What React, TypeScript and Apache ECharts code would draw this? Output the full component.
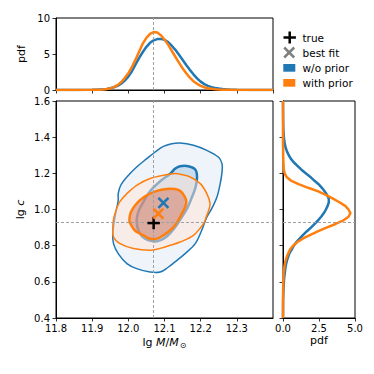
import React, { useEffect, useRef } from 'react';
import * as echarts from 'echarts';

const C0 = '#1f77b4';
const C1 = '#ff7f0e';
const FONT = 'DejaVu Sans';

// truth and best-fit parameters (lg M, lg c)
const trueParams = [12.07, 0.925];
const bestFitNoPrior = [12.097, 1.036];
const bestFitPrior = [12.083, 0.977];

// marginal pdf of lg M (top panel)
const massGrid = [11.80, 11.85, 11.90, 11.91, 11.92, 11.93, 11.94, 11.95, 11.96, 11.97, 11.98, 11.99,
  12.00, 12.01, 12.02, 12.03, 12.04, 12.05, 12.06, 12.07, 12.08, 12.09, 12.10, 12.11, 12.12, 12.13,
  12.14, 12.15, 12.16, 12.17, 12.18, 12.19, 12.20, 12.21, 12.22, 12.23, 12.24, 12.25, 12.26, 12.27,
  12.28, 12.29, 12.30, 12.35, 12.40];
const massPdfNoPrior = [0, 0, 0.02, 0.04, 0.07, 0.10, 0.15, 0.25, 0.38, 0.57, 0.87, 1.30,
  1.86, 2.60, 3.55, 4.45, 5.28, 6.00, 6.55, 6.90, 7.07, 7.10, 6.97, 6.65, 6.15, 5.58,
  4.90, 4.20, 3.48, 2.80, 2.18, 1.62, 1.16, 0.82, 0.58, 0.40, 0.28, 0.20, 0.14, 0.09,
  0.06, 0.04, 0.03, 0.01, 0];
const massPdfPrior = [0, 0, 0.02, 0.03, 0.05, 0.08, 0.13, 0.22, 0.40, 0.68, 1.08, 1.65,
  2.32, 3.20, 4.25, 5.35, 6.45, 7.25, 7.80, 8.05, 7.98, 7.60, 7.00, 6.30, 5.45, 4.62,
  3.80, 3.02, 2.32, 1.72, 1.22, 0.86, 0.58, 0.38, 0.25, 0.16, 0.10, 0.06, 0.04, 0.03,
  0.02, 0.01, 0.01, 0, 0];

// marginal pdf of lg c (right panel)
const concGrid = [0.40, 0.50, 0.55, 0.60, 0.62, 0.64, 0.66, 0.68, 0.70, 0.72, 0.74, 0.76, 0.78,
  0.80, 0.82, 0.84, 0.86, 0.88, 0.90, 0.92, 0.94, 0.96, 0.98, 1.00, 1.02, 1.04, 1.06, 1.08, 1.10,
  1.12, 1.14, 1.16, 1.18, 1.20, 1.22, 1.24, 1.26, 1.28, 1.30, 1.32, 1.34, 1.36, 1.38, 1.40,
  1.45, 1.50, 1.60];
const concPdfNoPrior = [0, 0.01, 0.03, 0.06, 0.08, 0.11, 0.14, 0.17, 0.22, 0.28, 0.36, 0.46, 0.61,
  0.75, 0.93, 1.17, 1.40, 1.66, 1.94, 2.20, 2.43, 2.65, 2.84, 2.98, 3.10, 3.18, 3.18, 3.06, 2.90,
  2.70, 2.47, 2.17, 1.90, 1.58, 1.28, 1.02, 0.76, 0.55, 0.40, 0.28, 0.19, 0.13, 0.09, 0.06,
  0.02, 0.01, 0];
const concPdfPrior = [0, 0, 0.01, 0.02, 0.03, 0.04, 0.06, 0.09, 0.13, 0.19, 0.27, 0.38, 0.50,
  0.70, 1.00, 1.40, 1.90, 2.45, 3.02, 3.65, 4.20, 4.55, 4.68, 4.55, 4.32, 3.92, 3.47, 3.00, 2.45,
  1.75, 1.08, 0.55, 0.25, 0.11, 0.06, 0.04, 0.03, 0.02, 0.01, 0.01, 0.01, 0, 0, 0,
  0, 0, 0];

// credible-region contours (lg M, lg c)
const blueOuter = [[11.972, 1.088], [11.979, 1.134], [11.996, 1.180], [12.023, 1.235], [12.051, 1.281],
  [12.074, 1.318], [12.097, 1.349], [12.120, 1.364], [12.143, 1.368], [12.180, 1.355], [12.217, 1.327],
  [12.249, 1.290], [12.259, 1.254], [12.259, 1.207], [12.254, 1.143], [12.245, 1.069], [12.232, 1.010],
  [12.217, 0.958], [12.203, 0.885], [12.185, 0.811], [12.157, 0.756], [12.129, 0.710], [12.111, 0.682],
  [12.088, 0.654], [12.060, 0.654], [12.023, 0.673], [11.996, 0.701], [11.972, 0.756], [11.959, 0.811],
  [11.957, 0.867], [11.963, 0.958], [11.972, 1.051]];
const blueInner = [[12.116, 1.198], [12.129, 1.225], [12.143, 1.239], [12.166, 1.239], [12.185, 1.221],
  [12.190, 1.180], [12.186, 1.124], [12.176, 1.069], [12.164, 1.012], [12.148, 0.958], [12.129, 0.901],
  [12.107, 0.852], [12.088, 0.830], [12.069, 0.824], [12.046, 0.838], [12.030, 0.874], [12.023, 0.929],
  [12.027, 0.984], [12.041, 1.040], [12.060, 1.101], [12.088, 1.156]];
const orangeOuter = [[11.957, 0.903], [11.959, 0.946], [11.963, 0.977], [11.969, 1.012], [11.977, 1.045],
  [11.996, 1.088], [12.023, 1.134], [12.060, 1.171], [12.097, 1.189], [12.129, 1.199], [12.143, 1.195],
  [12.171, 1.180], [12.199, 1.143], [12.217, 1.088], [12.226, 1.034], [12.222, 0.995], [12.215, 0.957],
  [12.208, 0.922], [12.180, 0.857], [12.143, 0.820], [12.116, 0.802], [12.088, 0.785], [12.060, 0.774],
  [12.014, 0.784], [11.977, 0.811], [11.959, 0.848]];
const orangeInner = [[12.032, 1.051], [12.051, 1.078], [12.079, 1.103], [12.106, 1.114], [12.129, 1.113],
  [12.143, 1.103], [12.152, 1.084], [12.160, 1.051], [12.158, 1.018], [12.148, 0.977], [12.138, 0.940],
  [12.129, 0.913], [12.116, 0.885], [12.099, 0.860], [12.079, 0.839], [12.060, 0.838], [12.042, 0.857],
  [12.021, 0.879], [12.014, 0.894], [12.005, 0.924], [12.003, 0.940], [12.005, 0.973], [12.010, 0.996],
  [12.019, 1.023]];

const legendItems = ['true', 'best fit', 'w/o prior', 'with prior'];

const zip = (a: number[], b: number[]) => a.map((v, i) => [v, b[i]]);

function contourSeries(pts: number[][], fill: string, stroke: string, lw: number) {
  return {
    type: 'custom', xAxisIndex: 0, yAxisIndex: 0, silent: true, data: pts, z: 2,
    renderItem: (params: any, api: any) => {
      if (params.dataIndex !== 0) return null;
      const points = pts.map((p) => api.coord(p));
      return { type: 'polygon', shape: { points, smooth: 0.35 }, style: { fill, stroke, lineWidth: lw } };
    },
  };
}

function markerSeries(pt: number[], kind: 'plus' | 'cross', color: string) {
  return {
    type: 'custom', xAxisIndex: 0, yAxisIndex: 0, silent: true, data: [pt], z: 5,
    renderItem: (params: any, api: any) => {
      const c = api.coord([api.value(0), api.value(1)]);
      const st = { stroke: color, lineWidth: 2.5 };
      if (kind === 'plus') {
        const h = 6.2;
        return { type: 'group', children: [
          { type: 'line', shape: { x1: c[0] - h, y1: c[1], x2: c[0] + h, y2: c[1] }, style: st },
          { type: 'line', shape: { x1: c[0], y1: c[1] - h, x2: c[0], y2: c[1] + h }, style: st },
        ] };
      }
      const h = 5;
      return { type: 'group', children: [
        { type: 'line', shape: { x1: c[0] - h, y1: c[1] - h, x2: c[0] + h, y2: c[1] + h }, style: st },
        { type: 'line', shape: { x1: c[0] - h, y1: c[1] + h, x2: c[0] + h, y2: c[1] - h }, style: st },
      ] };
    },
  };
}

const dashStyle = { color: '#a0a0a0', type: [3, 2] as any, width: 1 };

function truthLine(xi: number, yi: number, point: number[], lines: any[]) {
  return {
    type: 'line', xAxisIndex: xi, yAxisIndex: yi, data: [point], showSymbol: false, symbol: 'none',
    silent: true, z: 1, lineStyle: { width: 0 },
    markLine: { symbol: ['none', 'none'], silent: true, label: { show: false }, lineStyle: dashStyle, data: lines, animation: false },
  };
}

const tickCommon = { show: true, length: 3.5, inside: false, lineStyle: { color: '#000', width: 0.8 } };
const lineCommon = { show: true, onZero: false, lineStyle: { color: '#000', width: 1 } };
const labelCommon = { color: '#000', fontSize: 10, fontFamily: FONT };
const fmt1 = (v: number) => v.toFixed(1);

export default function App() {
  const ref = useRef<HTMLDivElement>(null);
  useEffect(() => {
    const chart = echarts.init(ref.current!, null, { renderer: 'svg' });
    const option: any = {
      animation: false,
      backgroundColor: '#fff',
      textStyle: { fontFamily: FONT },
      grid: [
        { left: 56, top: 101, width: 217, height: 217, show: true, borderColor: '#000', borderWidth: 1, backgroundColor: 'transparent' },
        { left: 56, top: 18, width: 217, height: 72, show: true, borderColor: '#000', borderWidth: 1, backgroundColor: 'transparent' },
        { left: 283, top: 101, width: 72, height: 217, show: true, borderColor: '#000', borderWidth: 1, backgroundColor: 'transparent' },
      ],
      xAxis: [
        {
          gridIndex: 0, type: 'value', min: 11.8, max: 12.4, interval: 0.1,
          axisLine: lineCommon, axisTick: tickCommon, splitLine: { show: false },
          axisLabel: { ...labelCommon, margin: 5, formatter: fmt1, showMaxLabel: false, showMinLabel: true },
          name: '{n|lg }{i|M}{n|/}{i|M}{s|⊙}', nameLocation: 'middle', nameGap: 17, nameMoveOverlap: false,
          nameTextStyle: {
            color: '#000', fontSize: 11, fontFamily: FONT,
            rich: {
              n: { fontSize: 11, fontFamily: FONT, color: '#000' },
              i: { fontSize: 11, fontFamily: FONT, fontStyle: 'italic', color: '#000' },
              s: { fontSize: 8, fontFamily: FONT, color: '#000', padding: [6, 0, 0, 1] },
            },
          },
        },
        {
          gridIndex: 1, type: 'value', min: 11.8, max: 12.4, interval: 0.1,
          axisLine: lineCommon, axisTick: tickCommon, splitLine: { show: false }, axisLabel: { show: false },
        },
        {
          gridIndex: 2, type: 'value', min: 0, max: 5, interval: 2.5,
          axisLine: lineCommon, axisTick: tickCommon, splitLine: { show: false },
          axisLabel: { ...labelCommon, margin: 5, formatter: fmt1, showMaxLabel: true, showMinLabel: true },
          name: 'pdf', nameLocation: 'middle', nameGap: 17, nameMoveOverlap: false,
          nameTextStyle: { color: '#000', fontSize: 11, fontFamily: FONT },
        },
      ],
      yAxis: [
        {
          gridIndex: 0, type: 'value', min: 0.4, max: 1.6, interval: 0.2,
          axisLine: lineCommon, axisTick: tickCommon, splitLine: { show: false },
          axisLabel: { ...labelCommon, margin: 6, formatter: fmt1, showMaxLabel: true, showMinLabel: true },
          name: '{n|lg }{i|c}', nameLocation: 'middle', nameGap: 30, nameRotate: 90, nameMoveOverlap: false,
          nameTextStyle: {
            color: '#000', fontSize: 11, fontFamily: FONT,
            rich: {
              n: { fontSize: 11, fontFamily: FONT, color: '#000' },
              i: { fontSize: 11, fontFamily: FONT, fontStyle: 'italic', color: '#000' },
            },
          },
        },
        {
          gridIndex: 1, type: 'value', min: 0, max: 10, interval: 5,
          axisLine: lineCommon, axisTick: tickCommon, splitLine: { show: false },
          axisLabel: { ...labelCommon, margin: 6, showMaxLabel: true, showMinLabel: true },
          name: 'pdf', nameLocation: 'middle', nameGap: 29, nameRotate: 90, nameMoveOverlap: false,
          nameTextStyle: { color: '#000', fontSize: 11, fontFamily: FONT },
        },
        {
          gridIndex: 2, type: 'value', min: 0.4, max: 1.6, interval: 0.2,
          axisLine: lineCommon, axisTick: tickCommon, splitLine: { show: false }, axisLabel: { show: false },
        },
      ],
      series: [
        truthLine(0, 0, trueParams, [{ xAxis: trueParams[0] }, { yAxis: trueParams[1] }]),
        truthLine(1, 1, [trueParams[0], 0], [{ xAxis: trueParams[0] }]),
        truthLine(2, 2, [0, trueParams[1]], [{ yAxis: trueParams[1] }]),
        contourSeries(blueOuter, 'rgba(221,233,245,0.5)', C0, 1.5),
        contourSeries(blueInner, 'rgba(162,196,226,0.5)', C0, 2.5),
        contourSeries(orangeOuter, 'rgba(255,228,214,0.5)', C1, 1.5),
        contourSeries(orangeInner, 'rgba(210,118,92,0.5)', C1, 2.5),
        markerSeries(trueParams, 'plus', '#000'),
        markerSeries(bestFitNoPrior, 'cross', C0),
        markerSeries(bestFitPrior, 'cross', C1),
        {
          type: 'line', xAxisIndex: 1, yAxisIndex: 1, data: zip(massGrid, massPdfNoPrior), showSymbol: false,
          symbol: 'none', silent: true, z: 3, lineStyle: { color: C0, width: 2.5 },
        },
        {
          type: 'line', xAxisIndex: 1, yAxisIndex: 1, data: zip(massGrid, massPdfPrior), showSymbol: false,
          symbol: 'none', silent: true, z: 3, lineStyle: { color: C1, width: 2.5 },
        },
        {
          type: 'line', xAxisIndex: 2, yAxisIndex: 2, data: zip(concPdfNoPrior, concGrid), showSymbol: false,
          symbol: 'none', silent: true, z: 3, lineStyle: { color: C0, width: 2.5 },
        },
        {
          type: 'line', xAxisIndex: 2, yAxisIndex: 2, data: zip(concPdfPrior, concGrid), showSymbol: false,
          symbol: 'none', silent: true, z: 3, lineStyle: { color: C1, width: 2.5 },
        },
      ],
      graphic: [
        { type: 'line', shape: { x1: 283.5, y1: 37.5, x2: 295.9, y2: 37.5 }, style: { stroke: '#000', lineWidth: 2.5 } },
        { type: 'line', shape: { x1: 289.7, y1: 31.5, x2: 289.7, y2: 43.5 }, style: { stroke: '#000', lineWidth: 2.5 } },
        { type: 'line', shape: { x1: 284.2, y1: 47.5, x2: 294.2, y2: 57.5 }, style: { stroke: '#808080', lineWidth: 2.5 } },
        { type: 'line', shape: { x1: 284.2, y1: 57.5, x2: 294.2, y2: 47.5 }, style: { stroke: '#808080', lineWidth: 2.5 } },
        { type: 'rect', shape: { x: 283.3, y: 64, width: 12, height: 7.7 }, style: { fill: C0 } },
        { type: 'rect', shape: { x: 283.3, y: 79, width: 12, height: 7.7 }, style: { fill: C1 } },
        ...legendItems.map((t, i) => ({
          type: 'text', x: 302.5, y: [37.5, 52.5, 67.8, 82.8][i],
          style: { text: t, fill: '#000', fontSize: 10.5, fontFamily: FONT, verticalAlign: 'middle', align: 'left' },
        })),
      ],
    };
    chart.setOption(option);
    return () => chart.dispose();
  }, []);
  return <div ref={ref} style={{ position: 'fixed', left: 0, top: 0, width: 374, height: 374, background: '#fff' }} />;
}
